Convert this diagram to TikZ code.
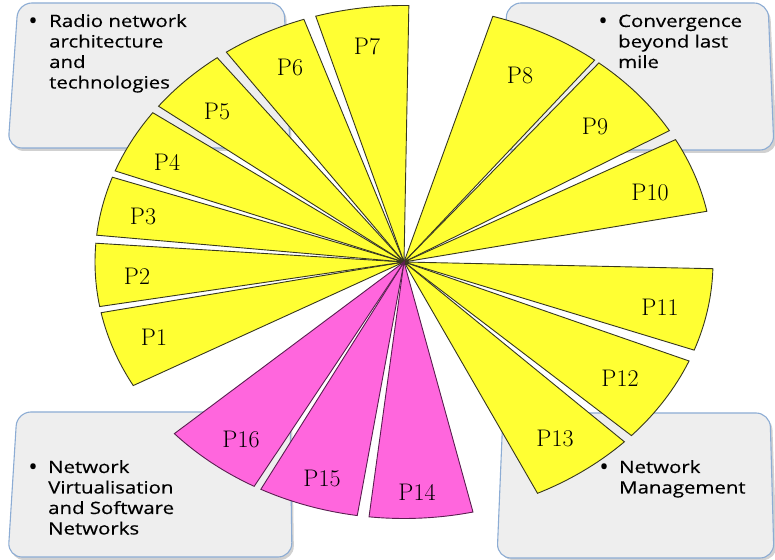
\documentclass[tikz,border=0pt]{standalone}
\usepackage{fontspec}
\newfontfamily\boxfont[FakeBold=0.4]{Open Sans}
\usepackage{graphicx}
\definecolor{wyellow}{RGB}{255,255,51}
\definecolor{wyedge}{RGB}{55,55,30}
\definecolor{wpink}{RGB}{255,102,221}
\definecolor{wpedge}{RGB}{90,30,80}
\definecolor{boxfill}{RGB}{238,238,238}
\definecolor{boxedge}{RGB}{140,172,212}
\tikzset{
  yw/.style={fill=wyellow, draw=wyedge, line width=0.9pt, line join=miter},
  pk/.style={fill=wpink, draw=wpedge, line width=0.9pt, line join=miter},
  infobox/.style={fill=boxfill, draw=boxedge, line width=1.1pt, rounded corners=14pt},
  boxshadow/.style={fill=black, opacity=0.18, rounded corners=14pt},
  plabel/.style={inner sep=0pt, font=\fontsize{24}{28}\selectfont},
  btext/.style={anchor=base west, inner sep=0pt, font=\boxfont\fontsize{17}{20.5}\selectfont},
  bullet/.style={anchor=base, inner sep=0pt, font=\boxfont\fontsize{24}{24}\selectfont}
}
\newcommand{\wide}[1]{\scalebox{1.2}[1]{\begin{tabular}[t]{@{}l@{}}#1\end{tabular}}}
\begin{document}
\begin{tikzpicture}[x=1pt,y=1pt]
\useasboundingbox (0,0) rectangle (775,559);
% shadows
\fill[boxshadow] (20,553) -- (286,553) -- (292,408) -- (10,408) -- cycle;
\fill[boxshadow] (509,553) -- (770,553) -- (777,406) -- (502,406) -- cycle;
\fill[boxshadow] (19,144) -- (292,144) -- (294,-1) -- (10,-1) -- cycle;
\fill[boxshadow] (505,143) -- (772,143) -- (777,-1) -- (499,-1) -- cycle;
% boxes
\draw[infobox] (18,556) -- (284,556) -- (290,411) -- (8,411) -- cycle;
\draw[infobox] (507,556) -- (768,556) -- (774,409) -- (500,409) -- cycle;
\draw[infobox] (17,147) -- (290,147) -- (292,2) -- (8,2) -- cycle;
\draw[infobox] (503,146) -- (770,146) -- (774,1) -- (497,1) -- cycle;
% fan
\coordinate (C) at (404,297);
\foreach \a/\b/\s in {191.4/208.8/yw, 175.8/190.0/yw, 160.7/174.0/yw, 144.4/159.2/yw,
  127.2/142.6/yw, 108.9/125.1/yw, 89.1/106.6/yw, 51.9/73.3/yw, 30.8/50.9/yw,
  11.4/28.5/yw, -20.1/-1.5/yw, -42.6/-22.7/yw, -64.4/-44.5/yw,
  -96.5/-77.1/pk, -117.6/-98.7/pk, -138.0/-119.0/pk}{
  \draw[\s] (C) -- ++(\a:309 and 256.5) arc[start angle=\a, end angle=\b, x radius=309, y radius=256.5] -- cycle;
}
% labels
\node[plabel] (p1) at (154,222) {P1};
\node[plabel] (p2) at (137,283) {P2};
\node[plabel] (p3) at (143,342) {P3};
\node[plabel] (p4) at (167,397) {P4};
\node[plabel] (p5) at (217,447) {P5};
\node[plabel] (p6) at (290,491) {P6};
\node[plabel] (p7) at (367,512) {P7};
\node[plabel] (p8) at (520,483) {P8};
\node[plabel] (p9) at (595,432) {P9};
\node[plabel] (p10) at (650,366) {P10};
\node[plabel] (p11) at (660,252) {P11};
\node[plabel] (p12) at (620,181) {P12};
\node[plabel] (p13) at (555,121) {P13};
\node[plabel] (p14) at (417,67) {P14};
\node[plabel] (p15) at (322,81) {P15};
\node[plabel] (p16) at (241,120) {P16};
% box texts
\node[bullet] (b1) at (33,530) {•};
\node[btext] (t1) at (49,532) {\wide{Radio network\\architecture\\and\\technologies}};
\node[bullet] (b2) at (603,530) {•};
\node[btext] (t2) at (618,532) {\wide{Convergence\\beyond last\\mile}};
\node[bullet] (b3) at (33,84) {•};
\node[btext] (t3) at (48,86) {\wide{Network\\Virtualisation\\and Software\\Networks}};
\node[bullet] (b4) at (604,84) {•};
\node[btext] (t4) at (619,86) {\wide{Network\\Management}};
\end{tikzpicture}
\end{document}
